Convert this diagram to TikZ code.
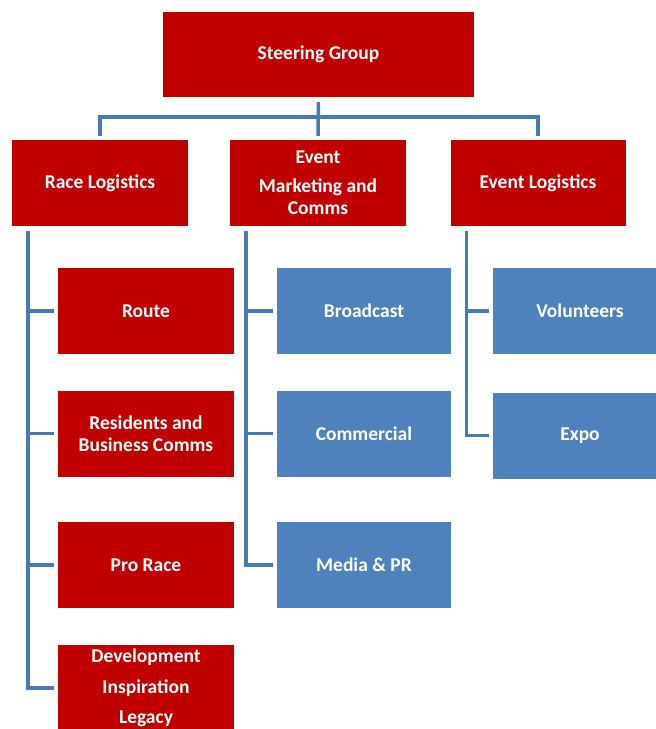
\documentclass[tikz,border=0pt]{standalone}
\usepackage{fontspec}
\setmainfont{Carlito}
\usetikzlibrary{calc}

\definecolor{boxred}{RGB}{192,0,0}
\definecolor{boxblue}{RGB}{79,129,189}
\definecolor{linkblue}{RGB}{74,122,182}

\begin{document}
\begin{tikzpicture}[x=1pt, y=-1pt,
    redbox/.style={fill=boxred, text=white, font=\fontsize{19.5}{22}\selectfont\bfseries,
      align=center, minimum width=176pt, minimum height=86pt, inner sep=0pt},
    bluebox/.style={redbox, fill=boxblue},
    link/.style={draw=linkblue, line width=3.5pt, shorten <=5pt, shorten >=4pt}]
      \useasboundingbox (0, 0) rectangle (656, 729);

      \node[redbox, minimum width=311pt, minimum height=85pt] (1) at (318.5, 54.5) {Steering Group};

      \node[redbox] (2) at (100, 183) {Race Logistics};
      \node[redbox] (3) at (318, 183) {Event\\[7pt]Marketing and\\Comms};
      \node[redbox, minimum width=175pt] (4) at (538, 183) {Event Logistics};

      \node[redbox] (5) at (146, 311) {Route};
      \node[redbox] (6) at (146, 433.5) {Residents and\\Business Comms};
      \node[redbox] (7) at (146, 565) {Pro Race};
      \node[redbox] (8) at (146, 688) {Development\\[9pt]Inspiration\\[8pt]Legacy};

      \node[bluebox, minimum width=174pt] (9) at (364, 311) {Broadcast};
      \node[bluebox, minimum width=174pt] (10) at (364, 433.5) {Commercial};
      \node[bluebox, minimum width=174pt] (11) at (364, 565) {Media \& PR};

      \node[bluebox, minimum width=174pt] (12) at (580, 311) {Volunteers};
      \node[bluebox, minimum width=174pt] (13) at (580, 435.5) {Expo};

      \draw[link] (1.south) -- ++(0, 20) -| (2.north);
      \draw[link] (1.south) -- (3.north);
      \draw[link] (1.south) -- ++(0, 20) -| (4.north);

      \draw[link] (2.south west) ++(16, 0) |- (5.west);
      \draw[link] (2.south west) ++(16, 0) |- (6.west);
      \draw[link] (2.south west) ++(16, 0) |- (7.west);
      \draw[link] (2.south west) ++(16, 0) |- (8.west);
      \draw[link] (3.south west) ++(16, 0) |- (9.west);
      \draw[link] (3.south west) ++(16, 0) |- (10.west);
      \draw[link] (3.south west) ++(16, 0) |- (11.west);
      \draw[link] (4.south west) ++(16, 0) |- (12.west);
      \draw[link] (4.south west) ++(16, 0) |- (13.west);
    \end{tikzpicture}
\end{document}
